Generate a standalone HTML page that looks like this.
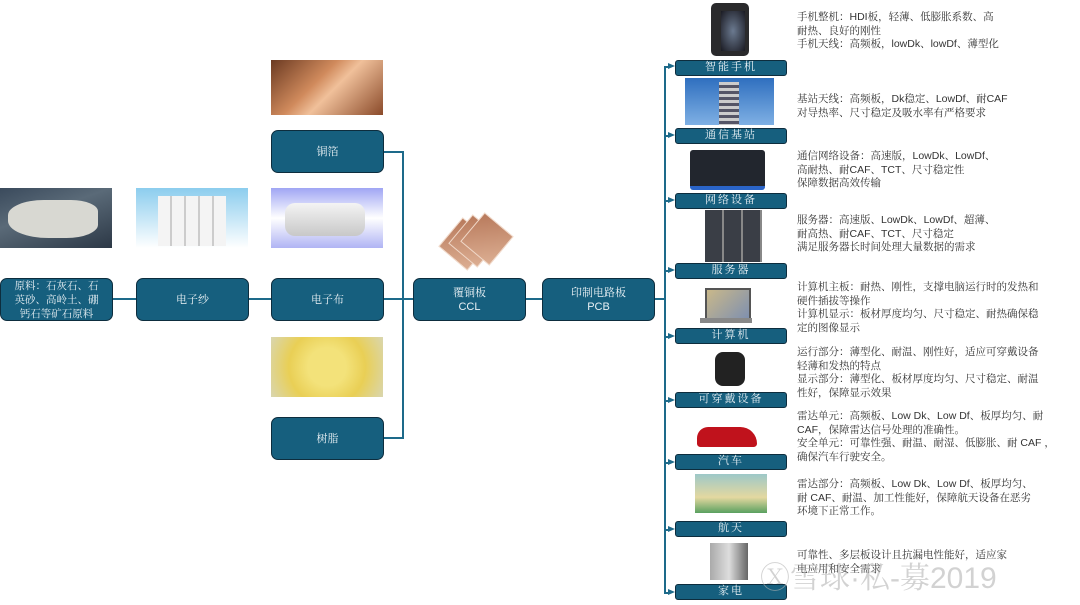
<!DOCTYPE html>
<html><head><meta charset="utf-8"><style>
body{margin:0;width:1080px;height:605px;background:#fff;position:relative;overflow:hidden;font-family:"Liberation Sans","Noto Serif CJK SC","Noto Sans CJK SC",sans-serif}
.b{position:absolute;background:#165f7e;border:1.5px solid #0d2d3e;border-radius:7px;color:#e8f0f4;display:flex;align-items:center;justify-content:center;text-align:center;font-size:11px;line-height:14px;box-sizing:border-box}
.r{position:absolute;left:675px;width:112px;height:16px;background:#165f7e;border:1.5px solid #0d2d3e;border-radius:3px;color:#e8f0f4;font-size:11px;line-height:13px;text-align:center;box-sizing:border-box;letter-spacing:2px}
.l{position:absolute;background:#1d6a8a}
.t{position:absolute;left:797px;font-size:10.5px;line-height:13.5px;color:#333;white-space:nowrap}
.im{position:absolute}
.ar{position:absolute;left:668px;width:0;height:0;border-top:3.5px solid transparent;border-bottom:3.5px solid transparent;border-left:7px solid #1d6a8a}
.sq{position:absolute;width:36px;height:36px;background:linear-gradient(135deg,#b87a5c,#dcae92);transform:rotate(40deg);border:1px solid #f0d8c8}
</style></head><body>
<!-- images -->
<div class="im" style="left:0;top:188px;width:112px;height:60px;background:linear-gradient(160deg,#3a4a5c,#5a6a78 40%,#2c3846)"><div style="position:absolute;left:8px;top:12px;width:90px;height:38px;background:#d8d8d2;border-radius:40% 30% 35% 45%"></div></div>
<div class="im" style="left:136px;top:188px;width:112px;height:60px;background:linear-gradient(#8ccdee,#fff)"><div style="position:absolute;left:22px;top:8px;width:68px;height:50px;background:repeating-linear-gradient(90deg,#f4f4f4 0 12px,#ccc 12px 14px)"></div></div>
<div class="im" style="left:271px;top:188px;width:112px;height:60px;background:linear-gradient(#a0a6f4,#fff 50%,#b0b4f4)"><div style="position:absolute;left:14px;top:15px;width:80px;height:33px;background:linear-gradient(#f4f4f4,#c8c8c8);border-radius:10px"></div></div>
<div class="im" style="left:271px;top:60px;width:112px;height:55px;background:linear-gradient(135deg,#6b3a22,#d08a5c 40%,#f0c09a 55%,#8a4a2a)"></div>
<div class="im" style="left:271px;top:337px;width:112px;height:60px;background:radial-gradient(circle,#f3e27a 30%,#e9cf55 60%,#d9d6b0)"></div>
<div class="sq" style="left:446px;top:225px"></div>
<div class="sq" style="left:456px;top:222px"></div>
<div class="sq" style="left:468px;top:220px"></div>
<div class="im" style="left:711px;top:3px;width:38px;height:53px;background:#2a2a2c;border-radius:5px"><div style="position:absolute;left:10px;top:8px;width:24px;height:40px;background:radial-gradient(#6b7a90,#1a1a22)"></div></div>
<div class="im" style="left:685px;top:78px;width:89px;height:47px;background:linear-gradient(#2f6fbf,#7fb0e4)"><div style="position:absolute;left:34px;top:4px;width:20px;height:43px;background:repeating-linear-gradient(#ccc 0 3px,#556 3px 6px)"></div></div>
<div class="im" style="left:690px;top:150px;width:75px;height:36px;background:#22262e;border-radius:3px;border-bottom:4px solid #2a64c8"></div>
<div class="im" style="left:705px;top:210px;width:57px;height:52px;background:repeating-linear-gradient(90deg,#3a3e46 0 17px,#888 17px 19px)"></div>
<div class="im" style="left:705px;top:288px;width:42px;height:30px;background:linear-gradient(135deg,#c9b88a,#7d8fb0);border:2px solid #555"></div>
<div class="im" style="left:700px;top:318px;width:52px;height:5px;background:#888"></div>
<div class="im" style="left:715px;top:352px;width:30px;height:34px;background:#222;border-radius:8px"></div>
<div class="im" style="left:697px;top:427px;width:60px;height:20px;background:#c0121c;border-radius:20px 30px 6px 6px"></div>
<div class="im" style="left:695px;top:474px;width:72px;height:39px;background:linear-gradient(#9dc8c8,#e4d8a0 60%,#5aa060)"></div>
<div class="im" style="left:710px;top:543px;width:38px;height:37px;background:linear-gradient(90deg,#aaa,#ddd,#666)"></div>
<!-- lines -->
<div class="l" style="left:112px;top:298px;width:430px;height:2px"></div>
<div class="l" style="left:654px;top:298px;width:12px;height:2px"></div>
<div class="l" style="left:383px;top:151px;width:21px;height:2px"></div>
<div class="l" style="left:383px;top:437px;width:21px;height:2px"></div>
<div class="l" style="left:402px;top:151px;width:2px;height:288px"></div>
<div class="l" style="left:664px;top:66px;width:2px;height:527px"></div>
<div class="l" style="left:664px;top:66px;width:6px;height:2px"></div>
<div class="ar" style="top:63px"></div><div class="ar" style="top:132px"></div><div class="ar" style="top:197px"></div><div class="ar" style="top:267px"></div><div class="ar" style="top:333px"></div><div class="ar" style="top:397px"></div><div class="ar" style="top:459px"></div><div class="ar" style="top:526px"></div><div class="ar" style="top:589px"></div>
<div class="l" style="left:664px;top:135px;width:6px;height:2px"></div><div class="l" style="left:664px;top:200px;width:6px;height:2px"></div><div class="l" style="left:664px;top:270px;width:6px;height:2px"></div><div class="l" style="left:664px;top:336px;width:6px;height:2px"></div><div class="l" style="left:664px;top:400px;width:6px;height:2px"></div><div class="l" style="left:664px;top:462px;width:6px;height:2px"></div><div class="l" style="left:664px;top:529px;width:6px;height:2px"></div><div class="l" style="left:664px;top:592px;width:6px;height:2px"></div>
<!-- boxes -->
<div class="b" style="left:0;top:278px;width:113px;height:43px;font-size:10.5px">原料：石灰石、石<br>英砂、高岭土、硼<br>钙石等矿石原料</div>
<div class="b" style="left:136px;top:278px;width:113px;height:43px">电子纱</div>
<div class="b" style="left:271px;top:130px;width:113px;height:43px">铜箔</div>
<div class="b" style="left:271px;top:278px;width:113px;height:43px">电子布</div>
<div class="b" style="left:271px;top:417px;width:113px;height:43px">树脂</div>
<div class="b" style="left:413px;top:278px;width:113px;height:43px">覆铜板<br>CCL</div>
<div class="b" style="left:542px;top:278px;width:113px;height:43px">印制电路板<br>PCB</div>
<div class="r" style="top:60px">智能手机</div>
<div class="r" style="top:128px">通信基站</div>
<div class="r" style="top:193px">网络设备</div>
<div class="r" style="top:263px">服务器</div>
<div class="r" style="top:328px">计算机</div>
<div class="r" style="top:392px">可穿戴设备</div>
<div class="r" style="top:454px">汽车</div>
<div class="r" style="top:521px">航天</div>
<div class="r" style="top:584px">家电</div>
<!-- texts -->
<div class="t" style="top:11px">手机整机：HDI板，轻薄、低膨胀系数、高<br>耐热、良好的刚性<br>手机天线：高频板，lowDk、lowDf、薄型化</div>
<div class="t" style="top:93px">基站天线：高频板，Dk稳定、LowDf、耐CAF<br>对导热率、尺寸稳定及吸水率有严格要求</div>
<div class="t" style="top:150px">通信网络设备：高速版，LowDk、LowDf、<br>高耐热、耐CAF、TCT、尺寸稳定性<br>保障数据高效传输</div>
<div class="t" style="top:214px">服务器：高速版、LowDk、LowDf、超薄、<br>耐高热、耐CAF、TCT、尺寸稳定<br>满足服务器长时间处理大量数据的需求</div>
<div class="t" style="top:281px">计算机主板：耐热、刚性，支撑电脑运行时的发热和<br>硬件插拔等操作<br>计算机显示：板材厚度均匀、尺寸稳定、耐热确保稳<br>定的图像显示</div>
<div class="t" style="top:346px">运行部分：薄型化、耐温、刚性好，适应可穿戴设备<br>轻薄和发热的特点<br>显示部分：薄型化、板材厚度均匀、尺寸稳定、耐温<br>性好，保障显示效果</div>
<div class="t" style="top:410px">雷达单元：高频板、Low Dk、Low Df、板厚均匀、耐<br>CAF，保障雷达信号处理的准确性。<br>安全单元：可靠性强、耐温、耐湿、低膨胀、耐 CAF ，<br>确保汽车行驶安全。</div>
<div class="t" style="top:478px">雷达部分：高频板、Low Dk、Low Df、板厚均匀、<br>耐 CAF、耐温、加工性能好，保障航天设备在恶劣<br>环境下正常工作。</div>
<div class="t" style="top:549px">可靠性、多层板设计且抗漏电性能好，适应家<br>电应用和安全需求</div>
<div style="position:absolute;left:760px;top:553px;font-size:30px;color:rgba(180,180,180,.6);white-space:nowrap">Ⓧ雪球·私-募2019</div>
</body></html>
